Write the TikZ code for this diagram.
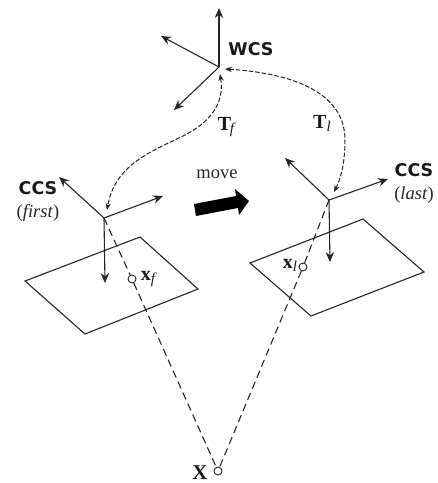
\documentclass[tikz,border=0pt]{standalone}
\usepackage{fontspec}
\setmainfont{Liberation Serif}
\newfontfamily\labelfont{DejaVu Sans}
\usetikzlibrary{arrows.meta}
\tikzset{
  axis/.style={-{Stealth[length=10pt,width=8.5pt]}, line width=1.1pt, black!85},
  plane/.style={line width=1.1pt, black!85},
  ray/.style={dash pattern=on 7.5pt off 4.5pt, line width=1.1pt, black!85},
  transform/.style={{Stealth[length=7pt,width=5.5pt]}-{Stealth[length=7pt,width=5.5pt]}, dash pattern=on 4.5pt off 2pt, line width=1pt, black!85},
  point/.style={circle, draw=black!85, line width=0.9pt, fill=white, inner sep=0pt, minimum size=8pt},
  frame/.style={font=\labelfont\bfseries\fontsize{17.5}{19}\selectfont, inner sep=0pt, black!90},
  label/.style={font=\fontsize{18.5}{20}\selectfont, inner sep=0pt, black!85},
  sublabel/.style={font=\fontsize{20}{22}\selectfont, inner sep=0pt, black!90},
  motion/.style={fill=black, draw=none}
}
\newcommand{\subtext}[1]{\textit{\fontsize{15}{15}\selectfont\raisebox{-3pt}{#1}}}
\begin{document}
\begin{tikzpicture}[x=1pt,y=-1pt]
  \useasboundingbox (0,0) rectangle (438,483);
  % frames
  \coordinate (wcs) at (219,67);
  \coordinate (first) at (104,218);
  \coordinate (last) at (329,200);
  \draw[axis] (wcs) -- (219,8);
  \draw[axis] (wcs) -- (161,36);
  \draw[axis] (wcs) -- (174,110);
  \draw[axis] (first) -- (59,177);
  \draw[axis] (first) -- (163,196);
  \draw[axis] (first) -- (105,283);
  \draw[axis] (last) -- (285,158);
  \draw[axis] (last) -- (388,179);
  \draw[axis] (last) -- (330,262);
  % image planes
  \draw[plane] (25,281) -- (140,237) -- (198,289) -- (85,334) -- cycle;
  \draw[plane] (250,263) -- (363,219) -- (424,272) -- (311,316) -- cycle;
  % projection rays
  \node[point] (xf) at (132,279) {};
  \node[point] (xl) at (303,267) {};
  \node[point] (X) at (218,471) {};
  \draw[ray] (first) -- (xf);
  \draw[ray] (xf) -- (X);
  \draw[ray] (last) -- (xl);
  \draw[ray] (xl) -- (X);
  % transforms
  \coordinate (wcsf) at (220,74);
  \coordinate (firstw) at (107,210);
  \coordinate (wcsl) at (225,69);
  \coordinate (lastw) at (334,192);
  \draw[transform] (wcsf) .. controls (225,105) and (208,123) .. (185,135)
    .. controls (150,152) and (115,165) .. (firstw);
  \draw[transform] (wcsl) .. controls (275,72) and (345,85) .. (345,140)
    .. controls (345,165) and (340,180) .. (lastw);
  % motion
  \fill[motion] (194,204) -- (236,196) -- (235,189) -- (249,201) -- (239,215) -- (238,208) -- (196,216) -- cycle;
  % labels
  \node[frame] (wcslabel) at (251,49) {WCS};
  \node[frame] (ccsfirst) at (38,188) {CCS};
  \node[label] (capfirst) at (38,213) {(\textit{first})};
  \node[frame] (ccslast) at (414,170) {CCS};
  \node[label] (caplast) at (414,195) {(\textit{last})};
  \node[label] (movelabel) at (217,174) {move};
  \node[sublabel] (tf) at (226,127) {\textbf{T}\kern-1.5pt\subtext{f}};
  \node[sublabel] (tl) at (322,123) {\textbf{T}\subtext{l}};
  \node[sublabel] (xflabel) at (148,279) {\textbf{x}\subtext{f}};
  \node[sublabel] (xllabel) at (290,265) {\textbf{x}\subtext{l}};
  \node[font=\fontsize{21}{23}\selectfont, inner sep=0pt, black!90] (Xlabel) at (200,473) {\textbf{X}};
\end{tikzpicture}
\end{document}
